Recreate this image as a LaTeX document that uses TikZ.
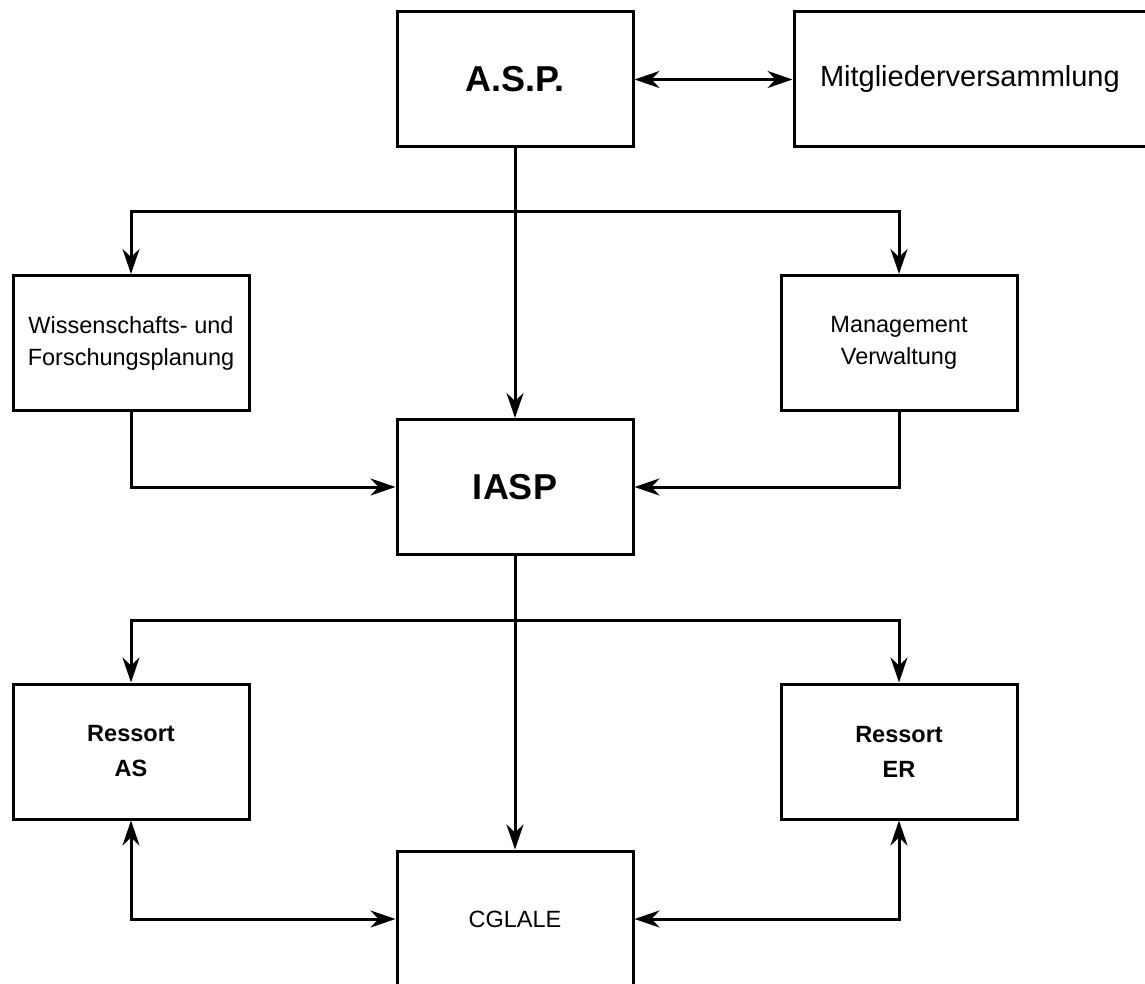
\documentclass[tikz,border=0pt]{standalone}
\usepackage{fontspec}
\setmainfont{Liberation Sans}
\usetikzlibrary{arrows.meta}
\begin{document}
\begin{tikzpicture}[x=1pt,y=1pt,
  box/.style={draw, line width=3pt, rectangle, inner sep=0pt, align=center},
  bigbox/.style={box, minimum width=236pt, minimum height=135pt},
  conn/.style={line width=3pt, -{Stealth[length=25pt,width=17pt,inset=8pt]}},
  dconn/.style={line width=3pt, {Stealth[length=25pt,width=17pt,inset=8pt]}-{Stealth[length=25pt,width=17pt,inset=8pt]}},
  bigfont/.style={font=\fontsize{36}{40}\selectfont\bfseries},
  smallfont/.style={font=\fontsize{23.5}{32}\selectfont},
  smallbold/.style={font=\fontsize{23.5}{35}\selectfont\bfseries}
]
\useasboundingbox (0,0) rectangle (1145,-984);
\clip (0,0) rectangle (1145,-984);

\node[bigbox, bigfont] (asp) at (515,-79.5) {A.S.P.};
\node[box, anchor=west, minimum height=135pt, text width=308pt, inner xsep=26pt, align=left,
      font=\fontsize{29}{34}\selectfont] (mv) at (792.5,-79.5) {Mitgliederversammlung};
\node[bigbox, smallfont] (wiss) at (131,-343) {Wissenschafts- und\\Forschungsplanung};
\node[bigbox, smallfont] (mgmt) at (899,-343) {Management\\Verwaltung};
\node[bigbox, bigfont] (iasp) at (515,-487) {IASP};
\node[bigbox, smallbold] (ras) at (131,-751.5) {Ressort\\AS};
\node[bigbox, smallbold] (rer) at (899,-751.5) {Ressort\\ER};
\node[bigbox, minimum height=136pt, smallfont] (cgl) at (515,-919) {CGLALE};

\coordinate (b1) at (515,-212);
\coordinate (b2) at (515,-620);

\draw[dconn] (asp) -- (mv);
\draw[conn] (asp) -- (iasp);
\draw[conn] (b1) -| (wiss.north);
\draw[conn] (b1) -| (mgmt.north);
\draw[conn] (wiss.south) |- (iasp.west);
\draw[conn] (mgmt.south) |- (iasp.east);
\draw[conn] (iasp) -- (cgl);
\draw[conn] (b2) -| (ras.north);
\draw[conn] (b2) -| (rer.north);
\draw[dconn] (ras.south) |- (cgl.west);
\draw[dconn] (rer.south) |- (cgl.east);
\end{tikzpicture}
\end{document}
